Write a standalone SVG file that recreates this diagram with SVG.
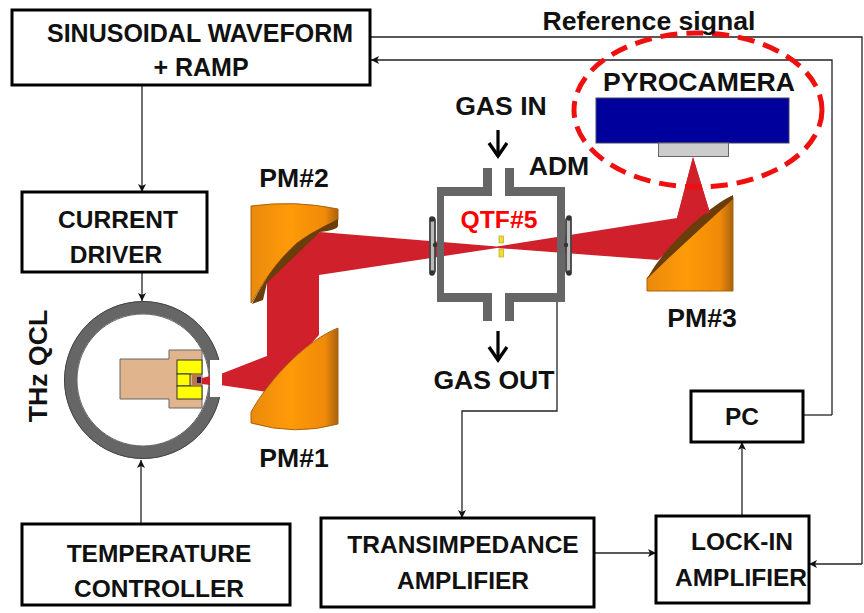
<svg xmlns="http://www.w3.org/2000/svg" width="864" height="613" viewBox="0 0 864 613">
<style>
.b{fill:#fff;stroke:#000;stroke-width:3}
.t{font-family:"Liberation Sans",Arial,sans-serif;font-weight:700;fill:#111;font-size:24.500px;text-anchor:middle}
.l{font-size:26.600px}
.c{fill:none;stroke:#222;stroke-width:1.3}
.g{fill:none;stroke:#000;stroke-width:3.200}
.w{fill:#666}
.lip{fill:#6b3d08}
</style>
<defs>
<marker id="a" markerWidth="10" markerHeight="10" refX="8" refY="4" orient="auto" markerUnits="userSpaceOnUse"><path d="M0,0L8,4L0,8L2,4Z" fill="#111"/></marker>
<marker id="k" markerWidth="22" markerHeight="24" refX="14" refY="10" orient="auto" markerUnits="userSpaceOnUse"><path d="M1,1L14,10L1,19" fill="none" stroke="#000" stroke-width="3.400"/></marker>
<linearGradient id="o" x1="0" x2="1" y1="0" y2="0"><stop offset="0" stop-color="#e98a0c"/><stop offset=".45" stop-color="#ff9a08"/><stop offset=".85" stop-color="#f08a08"/><stop offset="1" stop-color="#a9620f"/></linearGradient>
</defs>
<g id="connectors">
<path class="c" marker-end="url(#a)" d="M142,85V192"/>
<path class="c" marker-end="url(#a)" d="M142,272V301"/>
<path class="c" marker-end="url(#a)" d="M141,524V460"/>
<path class="c" d="M370,37H862V564"/>
<path class="c" marker-end="url(#a)" d="M862,564H809"/>
<path class="c" marker-end="url(#a)" d="M832,415V60H371"/>
<path class="c" d="M832,415H803"/>
<path class="c" marker-end="url(#a)" d="M557,297V411H462V518"/>
<path class="c" marker-end="url(#a)" d="M594,553H656"/>
<path class="c" marker-end="url(#a)" d="M742,516V442"/>
<path class="g" marker-end="url(#k)" d="M498,130V156"/>
<path class="g" marker-end="url(#k)" d="M498,331V360"/>
</g>
<g id="waveform"><rect class="b" x="12" y="10" width="358" height="75"/><text class="t" style="font-size:25px" x="200" y="42">SINUSOIDAL WAVEFORM</text><text class="t" style="font-size:25px" x="201" y="76">+ RAMP</text></g>
<g id="driver"><rect class="b" x="22" y="192" width="185" height="80"/><text class="t" x="118" y="228">CURRENT</text><text class="t" x="116" y="263">DRIVER</text></g>
<g id="temperature"><rect class="b" x="22" y="524" width="268" height="81"/><text class="t" x="159" y="562">TEMPERATURE</text><text class="t" x="159" y="597">CONTROLLER</text></g>
<g id="transimpedance"><rect class="b" x="321" y="518" width="273" height="89"/><text class="t" x="463" y="553">TRANSIMPEDANCE</text><text class="t" x="463" y="589">AMPLIFIER</text></g>
<g id="lockin"><rect class="b" x="656" y="516" width="153" height="87"/><text class="t" x="742" y="550">LOCK-IN</text><text class="t" x="741" y="586">AMPLIFIER</text></g>
<g id="pc"><rect class="b" x="691" y="391" width="112" height="51"/><text class="t" x="742" y="425">PC</text></g>
<g id="beam"><path fill="#cf202c" d="M213,377L267,356V270L320,232L497,246.500L677,218L693,157L710,213L658,260L497,248L319,275V335L267,392L213,384Z"/></g>
<g id="qcl">
<circle cx="143" cy="380" r="72.500" fill="#fff" stroke="#666" stroke-width="12.500"/>
<circle cx="143" cy="380" r="78.500" fill="none" stroke="#444" stroke-width="1"/>
<circle cx="143" cy="380" r="66" fill="none" stroke="#444" stroke-width=".8"/>
<rect x="210" y="360" width="12" height="37" fill="#fff"/>
<path d="M120,359H169V350H202V408H169V399H120Z" fill="#e0b48c" stroke="#666"/>
<g fill="#ff0" stroke="#333" stroke-width="1"><rect x="177" y="360" width="25" height="14"/><rect x="177" y="374" width="13" height="12"/><rect x="177" y="386" width="25" height="13"/></g>
<rect x="192" y="374" width="9" height="12" fill="#b5784a"/><rect x="197" y="377" width="4" height="6" fill="#30104a"/>
<path d="M202,378L210,376V385L202,384Z" fill="#cf202c"/>
</g>
<g id="pm1"><path fill="url(#o)" stroke="#a9620f" d="M338,328C308,340 272,375 251,412V423Q295,436 338,424Z"/></g>
<g id="pm2"><path fill="url(#o)" stroke="#a9620f" d="M251,206Q295,200 338,209V220C325,226 310,233 297,243C280,258 265,278 252,302L251,303Z"/><path class="lip" d="M338,219V226Q337,230 320,232L267,283L263,300L252,304C265,278 280,258 297,243C310,233 325,226 338,219Z"/></g>
<g id="pm3"><path fill="url(#o)" stroke="#a9620f" d="M733,197V291H647V278C665,260 700,228 733,197Z"/><path class="lip" d="M733,195C720,201 708,211 697,220C680,235 660,255 647,279C665,261 700,229 733,199Z"/></g>
<g id="adm">
<path class="w" fill-rule="evenodd" d="M437,187H483V168H492V196H444V293H492V321H483V302H437ZM514,168V187H565V302H514V321H505V293H557V196H505V168Z"/>
<g fill="#bbb" stroke="#444" stroke-width="1.800"><rect x="430" y="218" width="5" height="55" rx="2.500"/><rect x="566" y="218" width="5" height="55" rx="2.500"/></g>
<g fill="#333"><circle cx="432" cy="219" r="2.800"/><circle cx="435" cy="245" r="2.200"/><circle cx="432" cy="273" r="2.800"/><circle cx="569" cy="218" r="2.800"/><circle cx="566" cy="245" r="2.200"/><circle cx="569" cy="273" r="2.800"/></g>
<g fill="#f2dc2c" stroke="#b5a530" stroke-width=".7"><rect x="499" y="236" width="4.500" height="7"/><rect x="499" y="249" width="4.500" height="8"/></g>
</g>
<g id="pyrocamera"><rect x="596" y="98" width="193" height="45" fill="#00009c" stroke="#446"/><rect x="658.500" y="143" width="70" height="13.500" fill="#ccc" stroke="#666"/></g>
<path d="M693,157L677,218L710,213Z" fill="#cf202c"/>
<ellipse cx="698" cy="110" rx="124" ry="77" fill="none" stroke="#f00f0f" stroke-width="5" stroke-dasharray="17 9"/>
<g id="labels">
<text class="t l" x="649" y="30">Reference signal</text>
<text class="t l" x="699" y="91">PYROCAMERA</text>
<text class="t l" x="501" y="115">GAS IN</text>
<text class="t l" x="559" y="175">ADM</text>
<text class="t l" x="294" y="187">PM#2</text>
<text class="t l" x="702" y="327">PM#3</text>
<text class="t l" x="294" y="467">PM#1</text>
<text class="t l" x="494" y="389">GAS OUT</text>
<text x="499" y="228" style="font-family:'Liberation Sans',Arial,sans-serif;font-weight:700;font-size:24.700px;fill:#f00;text-anchor:middle">QTF#5</text>
<text class="t l" transform="translate(47,366) rotate(-90)">THz QCL</text>
</g>
</svg>
